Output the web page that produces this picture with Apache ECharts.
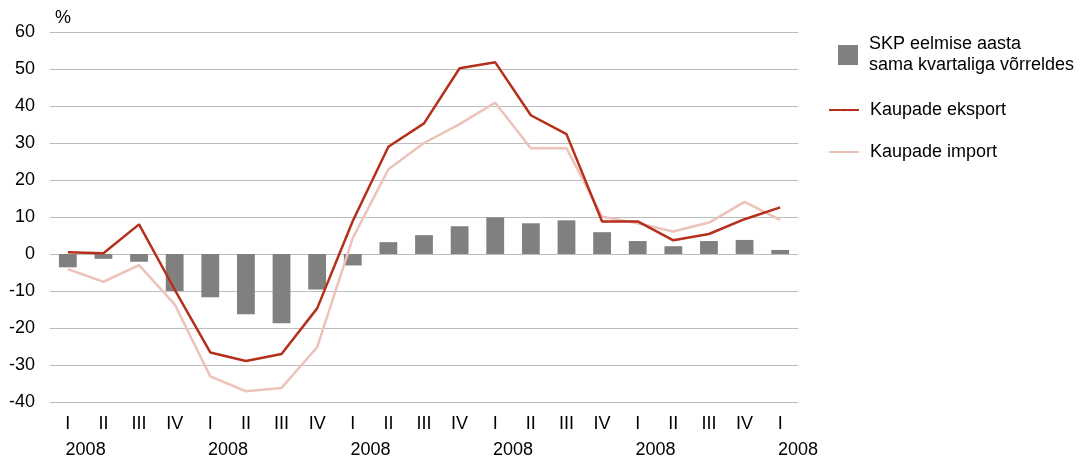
<!DOCTYPE html>
<html>
<head>
<meta charset="utf-8">
<script src="https://cdn.jsdelivr.net/npm/echarts@6/dist/echarts.min.js"></script>
<style>html,body{margin:0;padding:0;background:#fff}#c{width:1084px;height:459px}</style>
</head>
<body>
<div id="c"></div>
<script>
const quarters = ['I','II','III','IV','I','II','III','IV','I','II','III','IV','I','II','III','IV','I','II','III','IV','I'];
const yearLabels = ['2008','2008','2008','2008','2008','2008'];
const yearPositions = [1,5,9,13,17,21];
const gdp = [-3.6,-1.3,-2.1,-10.0,-11.7,-16.3,-18.7,-9.6,-3.1,3.2,5.1,7.5,9.9,8.3,9.1,5.9,3.5,2.1,3.5,3.8,1.1];
const exportVals = [0.5,0.2,8.0,-9.6,-26.6,-28.9,-27.0,-14.7,8.9,29.0,35.3,50.2,51.8,37.5,32.4,8.8,8.8,3.7,5.4,9.4,12.6];
const importVals = [-4.1,-7.5,-3.0,-13.6,-33.1,-37.1,-36.2,-25.2,4.3,22.9,30.0,35.1,40.9,28.6,28.6,10.1,8.3,6.1,8.5,14.1,9.2];
const seriesNames = ['SKP eelmise aasta\nsama kvartaliga võrreldes','Kaupade eksport','Kaupade import'];

const FONT = 'Liberation Sans, Arial, sans-serif';
const chart = echarts.init(document.getElementById('c'), null, {renderer:'canvas'});
chart.setOption({
  animation: false,
  backgroundColor: '#fff',
  textStyle: {fontFamily: FONT, color: '#000'},
  grid: {left: 50, right: 286, top: 32, bottom: 54, containLabel: false},
  legend: [
    {data: [seriesNames[0]], orient: 'vertical', left: 833, top: 29, itemWidth: 20, itemHeight: 20,
     icon: 'rect', textStyle: {fontSize: 18, fontFamily: FONT, color: '#000', lineHeight: 21, padding: [0,0,0,6]}},
    {data: [seriesNames[1], seriesNames[2]], orient: 'vertical', left: 823, top: 96, itemWidth: 30, itemHeight: 3,
     itemGap: 24, textStyle: {fontSize: 18, fontFamily: FONT, color: '#000', padding: [0,0,0,6]}}
  ],
  xAxis: [
    {type: 'category', data: quarters, boundaryGap: true,
     axisLine: {show: false}, axisTick: {show: false},
     axisLabel: {interval: 0, fontSize: 18, fontFamily: FONT, color: '#000', margin: 13}},
    {type: 'value', min: 0, max: 21, position: 'bottom', offset: 26,
     axisLine: {show: false}, axisTick: {show: false}, splitLine: {show: false},
     axisLabel: {customValues: yearPositions, showMaxLabel: true, showMinLabel: true, fontSize: 18, fontFamily: FONT, color: '#000', margin: 13,
       formatter: function (v) { const i = yearPositions.indexOf(v); return i >= 0 ? yearLabels[i] : ''; }}}
  ],
  yAxis: {
    type: 'value', min: -40, max: 60, interval: 10,
    name: '%', nameLocation: 'end', nameGap: 5,
    nameTextStyle: {fontSize: 18, fontFamily: FONT, color: '#000', align: 'left', padding: [0,0,0,5]},
    axisLine: {show: false}, axisTick: {show: false},
    axisLabel: {fontSize: 18, fontFamily: FONT, color: '#000', margin: 15},
    splitLine: {lineStyle: {color: '#bdbdbd', width: 1}}
  },
  series: [
    {name: seriesNames[0], type: 'bar', data: gdp, barWidth: '50%', itemStyle: {color: '#808080'}},
    {name: seriesNames[1], type: 'line', data: exportVals, symbol: 'none', lineStyle: {color: '#b52f1a', width: 2.5}, itemStyle: {color: '#b52f1a'}, z: 4},
    {name: seriesNames[2], type: 'line', data: importVals, symbol: 'none', lineStyle: {color: '#edc2ba', width: 2.5}, itemStyle: {color: '#edc2ba'}, z: 3}
  ]
});
</script>
</body>
</html>
